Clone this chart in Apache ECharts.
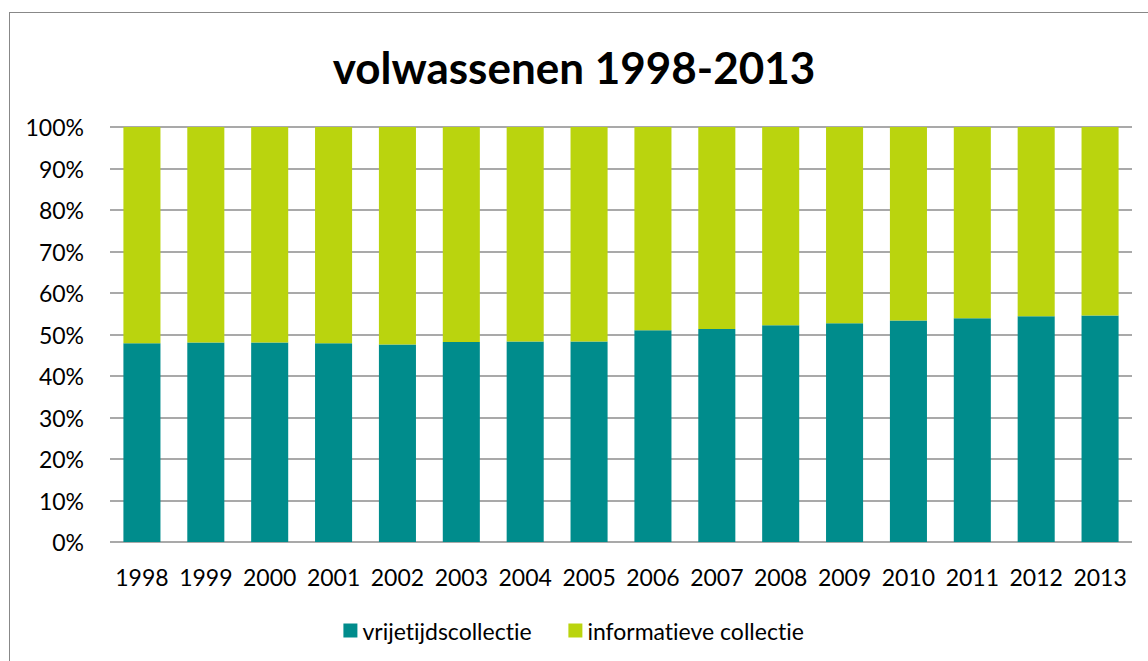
<!DOCTYPE html>
<html>
<head>
<meta charset="utf-8">
<script src="https://cdn.jsdelivr.net/npm/echarts@6/dist/echarts.min.js"></script>
<style>
  html, body { margin: 0; padding: 0; background: #fff; }
  #frame { position: absolute; left: 9px; top: 12px; width: 1160px; height: 680px; border: 1px solid #888; box-sizing: border-box; }
  #chart { position: absolute; left: 0; top: 0; width: 1148px; height: 661px; font-variant-ligatures: none; }
  #chart text { font-variant-ligatures: none; }
</style>
</head>
<body>
<div id="frame"></div>
<div id="chart"></div>
<script>
const years = ['1998', '1999', '2000', '2001', '2002', '2003', '2004', '2005',
  '2006', '2007', '2008', '2009', '2010', '2011', '2012', '2013'];
// aandeel vrijetijdscollectie (%)
const vrijetijd = [47.9, 48.1, 48.1, 47.9, 47.6, 48.2, 48.3, 48.3,
  51.0, 51.3, 52.2, 52.7, 53.4, 53.9, 54.4, 54.6];
// rest = informatieve collectie
const informatief = vrijetijd.map(v => +(100 - v).toFixed(1));

const font = 'Lato';
const chart = echarts.init(document.getElementById('chart'), null, {renderer: 'svg'});

chart.setOption({
  animation: false,
  title: {
    text: 'volwassenen 1998-2013',
    left: 'center',
    top: 40,
    textStyle: {fontFamily: font, fontSize: 44, fontWeight: 'bold', color: '#000'}
  },
  color: ['#008c8c', '#bad40e'],
  legend: {
    bottom: 14,
    left: 'center',
    itemWidth: 14,
    itemHeight: 14,
    itemGap: 36,
    icon: 'rect',
    textStyle: {fontFamily: font, fontSize: 23, color: '#000'},
    data: ['vrijetijdscollectie', 'informatieve collectie']
  },
  grid: {left: 110, right: 16, top: 127, bottom: 119},
  xAxis: {
    type: 'category',
    data: years,
    axisLine: {show: false},
    axisTick: {show: false},
    axisLabel: {fontFamily: font, fontSize: 23, color: '#000', margin: 23, interval: 0}
  },
  yAxis: {
    type: 'value',
    min: 0,
    max: 100,
    interval: 10,
    axisLine: {show: false},
    axisTick: {show: false},
    splitLine: {lineStyle: {color: '#8c8c8c', width: 1.5}},
    axisLabel: {fontFamily: font, fontSize: 23, color: '#000', margin: 26, formatter: '{value}%'}
  },
  series: [
    {
      name: 'vrijetijdscollectie',
      type: 'bar',
      stack: 'tot',
      barCategoryGap: '42%',
      data: vrijetijd
    },
    {
      name: 'informatieve collectie',
      type: 'bar',
      stack: 'tot',
      data: informatief
    }
  ]
});
</script>
</body>
</html>
